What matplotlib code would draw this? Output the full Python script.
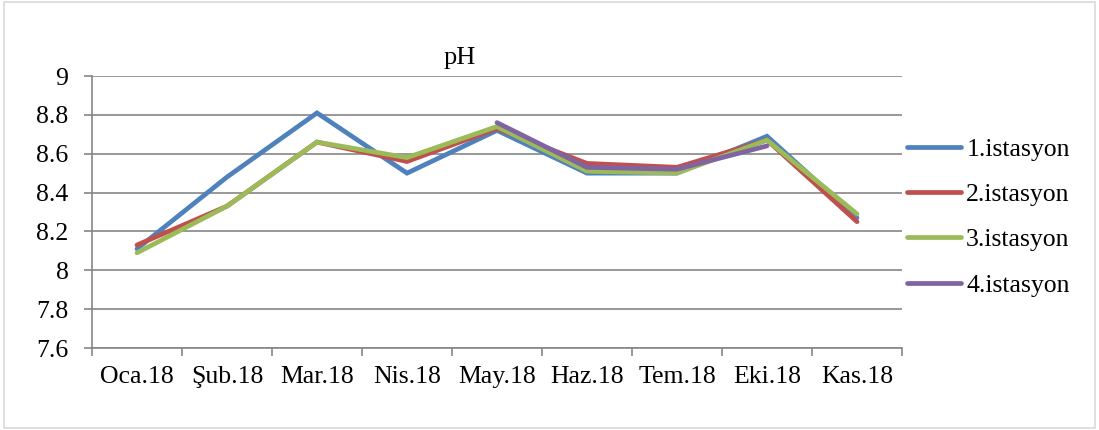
import matplotlib.pyplot as plt
import numpy as np

# ===================== 全局设置 =====================
plt.rcParams['font.family'] = ['Liberation Serif', 'DejaVu Serif']
plt.rcParams['figure.dpi'] = 100
plt.rcParams['savefig.dpi'] = 100

# ===================== 数据 =====================
months = ['Oca.18', 'Şub.18', 'Mar.18', 'Nis.18', 'May.18',
          'Haz.18', 'Tem.18', 'Eki.18', 'Kas.18']
ist1 = [8.11, 8.48, 8.81, 8.50, 8.72, 8.50, 8.50, 8.69, 8.27]
ist2 = [8.13, 8.33, 8.66, 8.56, 8.73, 8.55, 8.53, 8.67, 8.25]
ist3 = [8.09, 8.33, 8.66, 8.58, 8.74, 8.51, 8.50, 8.67, 8.29]
ist4 = [np.nan, np.nan, np.nan, np.nan, 8.76, 8.53, 8.52, 8.64, np.nan]
names = ['1.istasyon', '2.istasyon', '3.istasyon', '4.istasyon']
colors = ['#4F81BD', '#C0504D', '#9BBB59', '#8064A2']
yticks = [7.6, 7.8, 8.0, 8.2, 8.4, 8.6, 8.8, 9.0]
ylabels = ['7.6', '7.8', '8', '8.2', '8.4', '8.6', '8.8', '9']

# ===================== 画布 =====================
fig = plt.figure(figsize=(10.99, 4.30))
ax = fig.add_axes([92 / 1099, 1 - 348 / 430, 810 / 1099, 272 / 430])

# 外框
fig.patches.append(plt.Rectangle((0.004, 0.004), 0.992, 0.992, transform=fig.transFigure,
                                 fill=False, edgecolor='#d9d9d9', linewidth=1.2))

x = np.arange(len(months))
for vals, name, c in zip([ist1, ist2, ist3, ist4], names, colors):
    ax.plot(x, vals, color=c, linewidth=3.4, label=name, solid_capstyle='round',
            solid_joinstyle='miter')

ax.set_xlim(-0.5, len(months) - 0.5)
ax.set_ylim(7.6, 9.0)

# 坐标轴样式
grid_c = '#868686'
for side in ['top', 'right']:
    ax.spines[side].set_visible(False)
for side in ['left', 'bottom']:
    ax.spines[side].set_color(grid_c)
    ax.spines[side].set_linewidth(1.2)

ax.set_yticks(yticks)
ax.set_yticklabels(ylabels, fontsize=18.5)
ax.tick_params(axis='y', length=6, width=1.2, color=grid_c, pad=11)
ax.yaxis.grid(True, color=grid_c, linewidth=1.2)
ax.set_axisbelow(True)

ax.set_xticks(x)
ax.set_xticklabels(months, fontsize=18.5)
ax.set_xticks(np.arange(-0.5, len(months)), minor=True)
ax.tick_params(axis='x', which='major', length=0, pad=13)
ax.tick_params(axis='x', which='minor', length=6, width=1.2, color=grid_c)

# 标题
fig.text(460 / 1099, 1 - 64 / 430, 'pH', fontsize=19, ha='center', va='baseline')

# 图例
ax.legend(loc='center left', bbox_to_anchor=(1.0, 0.48), frameon=False,
          fontsize=18.5, handlelength=2.1, handletextpad=0.2, labelspacing=0.86,
          borderaxespad=0.0, borderpad=0.2)

plt.savefig('out.png')
